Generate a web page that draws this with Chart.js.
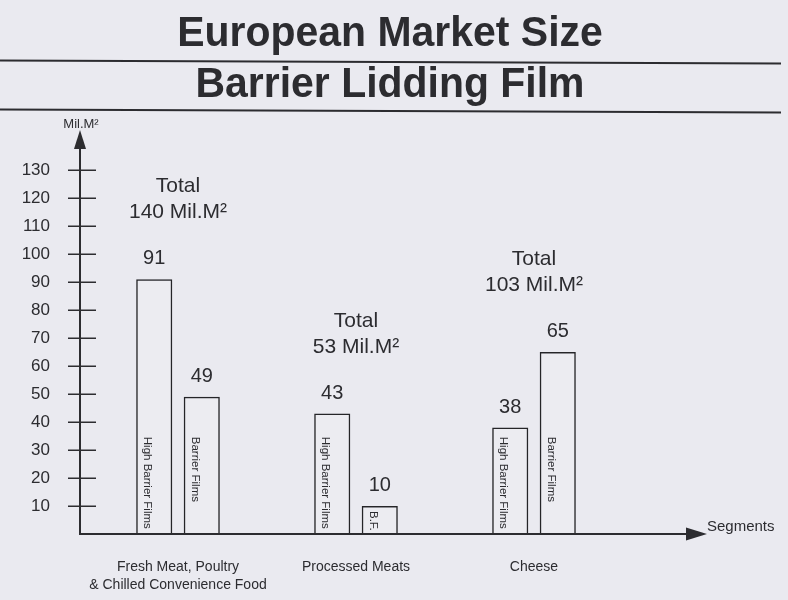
<!DOCTYPE html>
<html>
<head>
<meta charset="utf-8">
<script src="https://cdn.jsdelivr.net/npm/chart.js@4/dist/chart.umd.min.js"></script>
<style>
  html, body { margin: 0; padding: 0; background: #eaeaf0; }
  canvas { display: block; }
</style>
</head>
<body>
<canvas id="chart" width="788" height="600"></canvas>
<script>
// Market segments (x axis) and the two film types per segment, in Mil. m²
const segments = [["Fresh Meat, Poultry", "& Chilled Convenience Food"], "Processed Meats", "Cheese"];
const highBarrierFilms = [91, 43, 38];
const barrierFilms = [49, 10, 65];
const seriesNames = ["High Barrier Films", "Barrier Films"];
// text written vertically inside each bar
const highBarrierTags = ["High Barrier Films", "High Barrier Films", "High Barrier Films"];
const barrierTags = ["Barrier Films", "B.F.", "Barrier Films"];
const yTickValues = [10, 20, 30, 40, 50, 60, 70, 80, 90, 100, 110, 120, 130];
const titleLines = ["European Market Size", "Barrier Lidding Film"];
const yUnit = "Mil.M²";
const xName = "Segments";

const INK = "#2c2c30";
const FONT = '"Liberation Sans", Arial, Helvetica, sans-serif';

// segment totals = sum of both film types
const totals = highBarrierFilms.map((v, i) => v + barrierFilms[i]);

const decorations = {
  id: "decorations",
  afterDatasetsDraw(chart) {
    const { ctx, chartArea: ca, scales: { x, y } } = chart;
    ctx.save();
    ctx.fillStyle = INK;
    ctx.strokeStyle = INK;

    // heading with rules
    ctx.textAlign = "center";
    ctx.textBaseline = "alphabetic";
    ctx.font = "bold 42px " + FONT;
    ctx.save();
    ctx.translate(390, 0);
    ctx.scale(0.975, 1);
    ctx.fillText(titleLines[0], 0, 45.5);
    ctx.fillText(titleLines[1], 0, 97);
    ctx.restore();
    ctx.lineWidth = 2;
    [[60.5, 63.5], [109.5, 112.5]].forEach(([a, b]) => {
      ctx.beginPath(); ctx.moveTo(0, a); ctx.lineTo(781, b); ctx.stroke();
    });

    // value axis with arrow head
    const ax = ca.left - 9;
    const y0 = y.getPixelForValue(0);
    ctx.lineWidth = 2;
    ctx.beginPath(); ctx.moveTo(ax, y0 + 1); ctx.lineTo(ax, 146); ctx.stroke();
    ctx.beginPath(); ctx.moveTo(ax, 130); ctx.lineTo(ax - 6, 149); ctx.lineTo(ax + 6, 149); ctx.closePath(); ctx.fill();

    // category axis with arrow head
    ctx.beginPath(); ctx.moveTo(ax - 1, y0); ctx.lineTo(690, y0); ctx.stroke();
    ctx.beginPath(); ctx.moveTo(707, y0); ctx.lineTo(686, y0 - 6.5); ctx.lineTo(686, y0 + 6.5); ctx.closePath(); ctx.fill();

    // tick marks crossing the value axis
    ctx.lineWidth = 1.5;
    yTickValues.forEach(v => {
      const py = Math.round(y.getPixelForValue(v)) + 0.25;
      ctx.beginPath(); ctx.moveTo(ax - 12, py); ctx.lineTo(ax + 16, py); ctx.stroke();
    });

    // axis names
    ctx.font = "13px " + FONT;
    ctx.textAlign = "center";
    ctx.textBaseline = "middle";
    ctx.fillText(yUnit, ax + 1, 124);
    ctx.font = "15px " + FONT;
    ctx.textAlign = "left";
    ctx.fillText(xName, 707, 527);

    // values above bars, vertical tags inside bars
    const tags = [highBarrierTags, barrierTags];
    const topLabelY = [];
    chart.data.datasets.forEach((ds, di) => {
      chart.getDatasetMeta(di).data.forEach((bar, i) => {
        const v = ds.data[i];
        ctx.font = "20px " + FONT;
        ctx.textAlign = "center";
        ctx.textBaseline = "alphabetic";
        const by = bar.y - 15;
        ctx.fillText(String(v), bar.x, by);
        topLabelY[i] = Math.min(topLabelY[i] ?? Infinity, by);

        ctx.save();
        ctx.translate(bar.x - 7, y.getPixelForValue(Math.min(v, 36.5)) + 5);
        ctx.rotate(Math.PI / 2);
        ctx.font = "11.5px " + FONT;
        ctx.textAlign = "left";
        ctx.textBaseline = "middle";
        ctx.fillText(tags[di][i], 0, 0);
        ctx.restore();
      });
    });

    // segment totals
    ctx.font = "21px " + FONT;
    ctx.textAlign = "center";
    ctx.textBaseline = "alphabetic";
    totals.forEach((t, i) => {
      const cx = x.getPixelForValue(i);
      ctx.fillText("Total", cx, topLabelY[i] - 72);
      ctx.fillText(t + " Mil.M²", cx, topLabelY[i] - 46);
    });
    ctx.restore();
  }
};

new Chart(document.getElementById("chart"), {
  type: "bar",
  data: {
    labels: segments,
    datasets: [
      { label: seriesNames[0], data: highBarrierFilms },
      { label: seriesNames[1], data: barrierFilms }
    ].map(ds => Object.assign(ds, {
      backgroundColor: "rgba(255,255,255,0.12)",
      borderColor: "#252528",
      borderWidth: 1.5,
      borderSkipped: "bottom",
      categoryPercentage: 0.534,
      barPercentage: 0.76
    }))
  },
  options: {
    responsive: false,
    animation: false,
    layout: { padding: { left: 0, top: 142, right: 165, bottom: 0 } },
    plugins: { legend: { display: false }, title: { display: false }, tooltip: { enabled: false } },
    scales: {
      x: {
        grid: { display: false },
        border: { display: false },
        ticks: { color: INK, font: { family: FONT, size: 14, lineHeight: 1.28 }, padding: 16, maxRotation: 0, autoSkip: false },
        afterFit(s) { s.height = 66; }
      },
      y: {
        min: 0, max: 140,
        grid: { display: false, drawTicks: false },
        border: { display: false },
        ticks: {
          stepSize: 10, color: INK, padding: 39,
          font: { family: FONT, size: 17 },
          callback: v => (yTickValues.includes(v) ? String(v) : null)
        },
        afterFit(s) { s.width = 89; }
      }
    }
  },
  plugins: [decorations]
});
</script>
</body>
</html>
